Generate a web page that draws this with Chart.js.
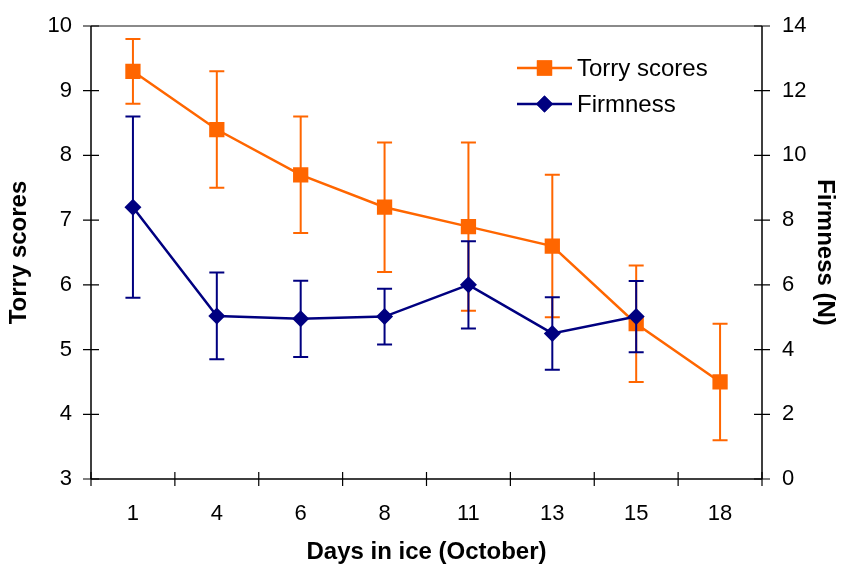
<!DOCTYPE html>
<html>
<head>
<meta charset="utf-8">
<script src="https://cdn.jsdelivr.net/npm/chart.js@4.4.1/dist/chart.umd.min.js"></script>
<style>
  html, body { margin: 0; padding: 0; background: #ffffff; }
  #wrap { width: 842px; height: 567px; }
</style>
</head>
<body>
<div id="wrap"><canvas id="chart" width="842" height="567"></canvas></div>
<script>
// Storage days in ice (October)
const days = ['1', '4', '6', '8', '11', '13', '15', '18'];

// Torry freshness scores (left axis) with their error half-widths
const torryScores = [9.3, 8.4, 7.7, 7.2, 6.9, 6.6, 5.4, 4.5];
const torryError  = [0.5, 0.9, 0.9, 1.0, 1.3, 1.1, 0.9, 0.9];

// Firmness in N (right axis); no measurement on day 18
const firmness      = [8.4, 5.04, 4.95, 5.02, 6.0, 4.5, 5.02, null];
const firmnessError = [2.8, 1.34, 1.18, 0.86, 1.35, 1.12, 1.1, null];

// Axis ranges and tick steps
const torryRange = [3, 10];
const torryStep = 1;
const firmRange = [0, 14];
const firmStep = 2;

const ORANGE = '#FF6600';
const NAVY = '#000080';
const FONT = "'Liberation Sans', Arial, Helvetica, sans-serif";

// Axis lines, crossing tick marks and the plot-area top edge
const frame = {
  id: 'frame',
  beforeDatasetsDraw(chart) {
    const ctx = chart.ctx;
    const a = chart.chartArea;
    const xs = chart.scales.x, yl = chart.scales.y, yr = chart.scales.y1;
    ctx.save();
    ctx.lineCap = 'butt';
    // top edge of the plot area
    ctx.strokeStyle = '#8a8a8a';
    ctx.lineWidth = 2;
    ctx.beginPath();
    ctx.moveTo(a.left, a.top);
    ctx.lineTo(a.right, a.top);
    ctx.stroke();
    // axis lines
    ctx.strokeStyle = '#000000';
    ctx.lineWidth = 1.5;
    ctx.beginPath();
    ctx.moveTo(a.left, a.top); ctx.lineTo(a.left, a.bottom);
    ctx.moveTo(a.right, a.top); ctx.lineTo(a.right, a.bottom);
    ctx.moveTo(a.left, a.bottom); ctx.lineTo(a.right, a.bottom);
    ctx.stroke();
    // tick marks
    ctx.lineWidth = 1.2;
    ctx.beginPath();
    yl.ticks.forEach(t => {
      const p = yl.getPixelForValue(t.value);
      ctx.moveTo(a.left - 8, p); ctx.lineTo(a.left + 8, p);
    });
    yr.ticks.forEach(t => {
      const p = yr.getPixelForValue(t.value);
      ctx.moveTo(a.right - 8, p); ctx.lineTo(a.right + 8, p);
    });
    const n = days.length;
    const step = (xs.getPixelForValue(1) - xs.getPixelForValue(0));
    for (let i = 0; i <= n; i++) {
      const p = xs.getPixelForValue(0) - step / 2 + i * step;
      ctx.moveTo(p, a.bottom - 7); ctx.lineTo(p, a.bottom + 7);
    }
    ctx.stroke();
    ctx.restore();
  }
};

// Error bars drawn just beneath each series
const errorBars = {
  id: 'errorBars',
  beforeDatasetDraw(chart, args) {
    const ds = chart.data.datasets[args.index];
    if (!ds.errors) return;
    const ctx = chart.ctx;
    const xs = chart.scales.x;
    const ys = chart.scales[ds.yAxisID];
    ctx.save();
    ctx.strokeStyle = ds.borderColor;
    ctx.lineWidth = 2;
    ctx.lineCap = 'butt';
    ds.data.forEach((v, i) => {
      const e = ds.errors[i];
      if (v == null || e == null) return;
      const x = xs.getPixelForValue(i);
      const top = ys.getPixelForValue(v + e);
      const bot = ys.getPixelForValue(v - e);
      ctx.beginPath();
      ctx.moveTo(x, top); ctx.lineTo(x, bot);
      ctx.moveTo(x - 7.5, top); ctx.lineTo(x + 7.5, top);
      ctx.moveTo(x - 7.5, bot); ctx.lineTo(x + 7.5, bot);
      ctx.stroke();
    });
    ctx.restore();
  }
};

// Legend in the upper right of the plot: line sample with marker and label
const innerLegend = {
  id: 'innerLegend',
  afterDraw(chart) {
    const ctx = chart.ctx;
    const items = chart.data.datasets.slice().sort((p, q) => p.legendRank - q.legendRank);
    const x0 = 517, x1 = 572, tx = 577;
    const rows = [68, 104];
    ctx.save();
    items.forEach((ds, k) => {
      const y = rows[k];
      ctx.strokeStyle = ds.borderColor;
      ctx.lineWidth = 2.5;
      ctx.beginPath();
      ctx.moveTo(x0, y); ctx.lineTo(x1, y);
      ctx.stroke();
      ctx.fillStyle = ds.borderColor;
      Chart.helpers.drawPoint(ctx, {
        pointStyle: ds.pointStyle, radius: ds.pointRadius, rotation: 0, borderWidth: 0
      }, (x0 + x1) / 2, y);
      ctx.fill();
      ctx.fillStyle = '#000000';
      ctx.font = '24px ' + FONT;
      ctx.textAlign = 'left';
      ctx.textBaseline = 'middle';
      ctx.fillText(ds.label, tx, y + 1);
    });
    ctx.restore();
  }
};

// Vertical axes: fixed width and no extra room reserved for edge labels
function fitVertical(width) {
  return function (s) {
    s.width = width;
    s.paddingTop = 0;
    s.paddingBottom = 0;
  };
}

new Chart(document.getElementById('chart'), {
  type: 'line',
  data: {
    labels: days,
    datasets: [
      {
        label: 'Firmness',
        data: firmness,
        errors: firmnessError,
        yAxisID: 'y1',
        borderColor: NAVY,
        backgroundColor: NAVY,
        borderWidth: 2.5,
        pointStyle: 'rectRot',
        pointRadius: 8.5,
        pointBorderWidth: 0,
        tension: 0,
        order: 0,
        legendRank: 1
      },
      {
        label: 'Torry scores',
        data: torryScores,
        errors: torryError,
        yAxisID: 'y',
        borderColor: ORANGE,
        backgroundColor: ORANGE,
        borderWidth: 2.5,
        pointStyle: 'rect',
        pointRadius: 10.8,
        pointBorderWidth: 0,
        tension: 0,
        order: 1,
        legendRank: 0
      }
    ]
  },
  options: {
    responsive: false,
    animation: false,
    devicePixelRatio: 1,
    layout: { padding: { top: 26, left: 0, right: 0, bottom: 0 } },
    plugins: {
      legend: { display: false },
      tooltip: { enabled: false }
    },
    scales: {
      x: {
        type: 'category',
        offset: true,
        grid: { display: false, drawTicks: false },
        border: { display: false },
        ticks: { color: '#000', padding: 22, font: { family: FONT, size: 22 } },
        title: {
          display: true, text: 'Days in ice (October)', color: '#000',
          padding: { top: 0, bottom: 0.5 },
          font: { family: FONT, size: 24, weight: 'bold' }
        },
        afterFit(s) { s.height = 88; s.paddingLeft = 0; s.paddingRight = 0; }
      },
      y: {
        position: 'left',
        min: torryRange[0], max: torryRange[1],
        grid: { display: false, drawTicks: false },
        border: { display: false },
        ticks: { stepSize: torryStep, color: '#000', padding: 19, font: { family: FONT, size: 22 } },
        title: {
          display: true, text: 'Torry scores', color: '#000',
          padding: { top: 4.5, bottom: 0 },
          font: { family: FONT, size: 24, weight: 'bold' }
        },
        afterFit: fitVertical(91)
      },
      y1: {
        position: 'right',
        min: firmRange[0], max: firmRange[1],
        grid: { display: false, drawTicks: false },
        border: { display: false },
        ticks: { stepSize: firmStep, color: '#000', padding: 20, font: { family: FONT, size: 22 } },
        title: {
          display: true, text: 'Firmness (N)', color: '#000',
          padding: { top: 2.5, bottom: 0 },
          font: { family: FONT, size: 24, weight: 'bold' }
        },
        afterFit: fitVertical(80)
      }
    }
  },
  plugins: [frame, errorBars, innerLegend]
});
</script>
</body>
</html>
